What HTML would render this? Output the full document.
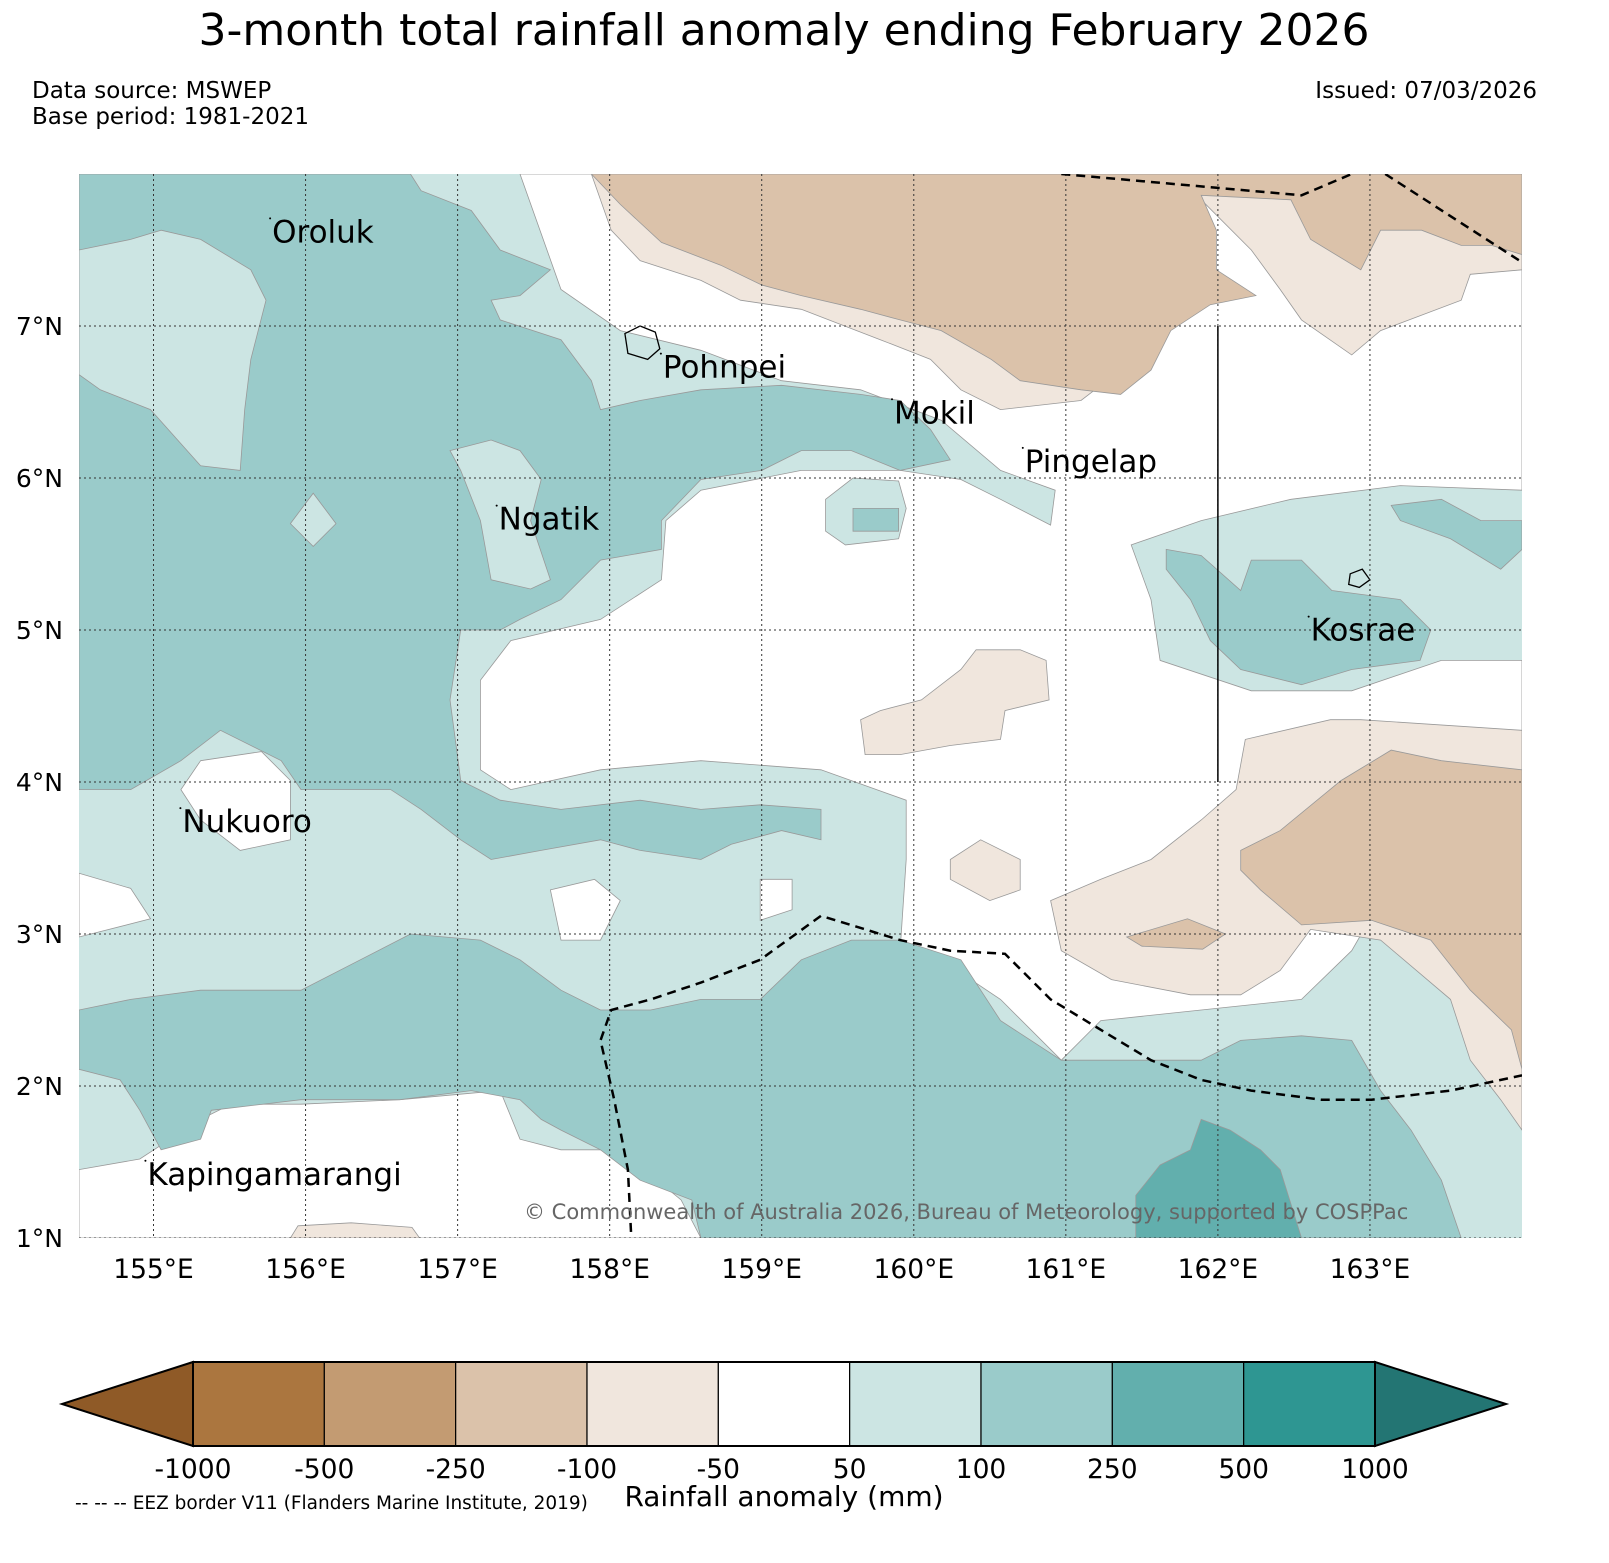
<!DOCTYPE html>
<html><head><meta charset="utf-8"><style>
html,body{margin:0;padding:0;background:#fff;}
body{width:1609px;height:1563px;position:relative;overflow:hidden;font-family:"DejaVu Sans","Liberation Sans",sans-serif;}
.t{position:absolute;white-space:nowrap;color:#000;}
</style></head><body>
<div class="t" style="left:0;width:1568px;text-align:center;top:5px;font-size:44px;">3-month total rainfall anomaly ending February 2026</div>
<div class="t" style="left:32px;top:78px;font-size:23px;line-height:26px;">Data source: MSWEP<br>Base period: 1981-2021</div>
<div class="t" style="right:72px;top:78px;font-size:23px;">Issued: 07/03/2026</div>
<svg id="map" width="1609" height="1563" style="position:absolute;left:0;top:0" xmlns="http://www.w3.org/2000/svg"></svg>
<script>
// axis scales (lon/lat)
const lonTicks=[155,156,157,158,159,160,161,162,163];
const latTicks=[1,2,3,4,5,6,7];
const lonMin=154.51, lonMax=164.0, latMin=1.0, latMax=8.0;
const levels=[-1000,-500,-250,-100,-50,50,100,250,500,1000];
const levelColors=["#8f5a27","#ab763f","#c39b72","#dbc2aa","#f0e6dd","#ffffff","#cce5e3","#9acbca","#62afad","#2e9692","#237573"];
// contour regions: [colorIndex, polygon in [lon,lat]]
const W1=[[157.41,8],[164,8],[164,5.92],[163.2,5.95],[162.48,5.86],[161.89,5.72],[161.43,5.56],[161.56,5.2],[161.62,4.8],[162.22,4.6],[162.88,4.6],[163.47,4.8],[164,4.8],[164,3.36],[163.07,3.22],[162.88,2.89],[162.55,2.57],[161.89,2.5],[161.23,2.43],[160.97,2.17],[160.57,2.57],[160.18,2.83],[159.91,2.89],[159.95,3.49],[159.95,3.88],[159.39,4.08],[158.6,4.14],[157.94,4.08],[157.35,3.95],[157.15,4.08],[157.15,4.67],[157.35,4.93],[157.94,5.07],[158.34,5.33],[158.37,5.72],[158.6,5.92],[159.26,6.05],[159.91,6.05],[160.31,5.99],[160.57,5.86],[160.9,5.69],[160.93,5.92],[160.57,6.05],[160.18,6.38],[159.65,6.58],[159.13,6.64],[158.6,6.84],[158.07,6.97],[157.68,7.24]];
const W2=[[154.51,1.45],[154.91,1.52],[155.31,1.78],[155.51,1.88],[155.97,1.88],[156.62,1.91],[157.28,1.97],[157.41,1.65],[157.68,1.58],[158.07,1.58],[158.47,1.25],[158.6,1.0],[154.51,1.0]];
const W3=[[155.31,4.14],[155.71,4.2],[155.9,4.01],[155.9,3.62],[155.57,3.55],[155.31,3.75],[155.18,3.95]];
const W4=[[157.61,3.29],[157.9,3.36],[158.07,3.22],[157.94,2.96],[157.68,2.96]];
const W5=[[158.99,3.36],[159.2,3.36],[159.2,3.16],[158.99,3.09]];
const W6=[[154.51,3.4],[154.85,3.3],[154.98,3.1],[154.51,2.98]];
const LB1=[[159.42,5.86],[159.6,6.0],[159.9,5.98],[159.95,5.8],[159.9,5.6],[159.55,5.56],[159.42,5.65]];
const MB1=[[159.6,5.8],[159.9,5.8],[159.9,5.65],[159.6,5.65]];
const T1=[[157.88,8],[164,8],[164,7.37],[163.66,7.34],[163.6,7.17],[163.07,6.97],[162.88,6.81],[162.55,7.04],[162.41,7.24],[162.22,7.5],[161.89,7.83],[161.76,7.76],[161.86,7.5],[161.76,7.04],[161.56,6.91],[161.36,6.71],[161.1,6.51],[160.57,6.45],[160.31,6.58],[160.11,6.78],[159.78,6.91],[159.26,7.11],[158.86,7.17],[158.6,7.3],[158.2,7.43],[158.01,7.63]];
const T2=[[157.88,8],[164,8],[164,7.47],[163.8,7.53],[163.6,7.53],[163.34,7.63],[163.07,7.63],[162.94,7.37],[162.61,7.57],[162.48,7.83],[161.89,7.86],[161.99,7.63],[161.99,7.37],[162.25,7.2],[161.95,7.14],[161.69,6.97],[161.56,6.71],[161.36,6.55],[161.1,6.58],[160.7,6.64],[160.51,6.78],[160.18,6.97],[159.91,7.04],[159.65,7.11],[159.26,7.2],[159.0,7.27],[158.73,7.4],[158.34,7.55],[158.07,7.8]];
const T3=[[160.9,3.22],[161.23,3.36],[161.56,3.49],[161.89,3.75],[162.12,3.95],[162.18,4.28],[162.74,4.41],[162.94,4.41],[164,4.34],[164,1.71],[163.86,1.91],[163.66,2.17],[163.53,2.57],[163.07,2.96],[162.61,3.03],[162.41,2.76],[162.15,2.6],[161.82,2.6],[161.3,2.7],[160.97,2.89]];
const T4=[[162.15,3.55],[162.41,3.68],[162.81,4.01],[163.14,4.21],[163.47,4.14],[164,4.08],[164,2.11],[163.93,2.37],[163.66,2.63],[163.4,2.96],[163.01,3.09],[162.55,3.06],[162.28,3.29],[162.15,3.42]];
const T5=[[161.4,2.98],[161.8,3.1],[162.05,3.0],[161.9,2.9],[161.5,2.92]];
const T6=[[159.65,4.41],[159.78,4.47],[160.05,4.54],[160.31,4.74],[160.41,4.87],[160.7,4.87],[160.87,4.8],[160.89,4.54],[160.6,4.47],[160.57,4.28],[160.24,4.24],[159.91,4.18],[159.68,4.18]];
const T7=[[160.24,3.49],[160.44,3.62],[160.7,3.49],[160.7,3.29],[160.5,3.22],[160.24,3.36]];
const T8=[[155.9,1.0],[155.95,1.08],[156.3,1.1],[156.7,1.07],[156.75,1.0]];
const M1=[[154.51,8],[156.69,8],[156.76,7.89],[157.09,7.76],[157.28,7.5],[157.61,7.37],[157.41,7.2],[157.22,7.17],[157.28,7.04],[157.68,6.91],[157.88,6.64],[157.94,6.45],[158.2,6.51],[158.6,6.58],[159.13,6.61],[159.65,6.55],[159.91,6.51],[160.11,6.32],[160.24,6.12],[159.91,6.05],[159.59,6.18],[159.26,6.18],[159.0,6.05],[158.6,5.99],[158.34,5.72],[158.34,5.53],[157.94,5.46],[157.68,5.2],[157.41,5.07],[157.28,5.0],[157.02,5.0],[156.95,4.54],[156.99,4.24],[157.02,4.01],[157.28,3.88],[157.68,3.82],[158.2,3.88],[158.6,3.82],[158.99,3.85],[159.39,3.82],[159.39,3.62],[159.13,3.68],[158.8,3.59],[158.6,3.49],[158.2,3.55],[157.94,3.62],[157.55,3.55],[157.22,3.49],[157.02,3.62],[156.76,3.82],[156.56,3.95],[155.97,3.95],[155.84,4.14],[155.44,4.34],[155.18,4.14],[154.85,3.95],[154.51,3.95]];
const L1=[[154.51,7.5],[154.85,7.57],[155.05,7.63],[155.31,7.57],[155.64,7.37],[155.74,7.17],[155.64,6.78],[155.6,6.45],[155.57,6.05],[155.31,6.08],[154.98,6.45],[154.65,6.58],[154.51,6.68]];
const L2=[[156.95,6.18],[157.22,6.25],[157.41,6.18],[157.55,5.99],[157.48,5.72],[157.61,5.33],[157.48,5.27],[157.22,5.33],[157.15,5.72],[157.02,6.05]];
const L3=[[155.9,5.7],[156.05,5.9],[156.2,5.7],[156.05,5.55]];
const M2=[[154.51,2.5],[154.85,2.57],[155.31,2.63],[155.97,2.63],[156.36,2.83],[156.69,3.0],[157.15,2.96],[157.41,2.83],[157.68,2.63],[157.94,2.5],[158.27,2.5],[158.6,2.57],[158.99,2.57],[159.26,2.83],[159.59,2.96],[159.91,2.96],[160.31,2.83],[160.57,2.43],[160.97,2.17],[161.23,2.17],[161.89,2.17],[162.15,2.3],[162.55,2.33],[162.88,2.3],[163.07,1.97],[163.27,1.71],[163.47,1.38],[163.6,1.0],[158.6,1.0],[158.54,1.25],[158.2,1.38],[157.94,1.58],[157.68,1.71],[157.55,1.78],[157.41,1.91],[157.09,1.97],[156.62,1.91],[155.97,1.91],[155.38,1.84],[155.31,1.65],[155.05,1.58],[154.91,1.84],[154.78,2.04],[154.51,2.11]];
const M3=[[161.46,1.28],[161.62,1.48],[161.82,1.58],[161.89,1.78],[162.08,1.71],[162.28,1.58],[162.41,1.45],[162.55,1.0],[161.46,1.0]];
const M4=[[161.66,5.53],[161.89,5.49],[162.15,5.26],[162.22,5.46],[162.55,5.46],[162.75,5.26],[163.2,5.2],[163.4,5.0],[163.33,4.8],[162.88,4.74],[162.55,4.64],[162.15,4.74],[161.95,4.93],[161.82,5.2],[161.66,5.4]];
const M5=[[163.14,5.82],[163.47,5.86],[163.73,5.72],[164,5.72],[164,5.53],[163.86,5.4],[163.53,5.6],[163.2,5.72]];
const regions=[["white-region-central",5,W1],["white-region-south",5,W2],["white-region-nukuoro",5,W3],["white-patch-a",5,W4],["white-patch-b",5,W5],["white-patch-c",5,W6],["light-teal-patch",6,LB1],["teal-patch",7,MB1],
["light-tan-north",4,T1],["tan-north",3,T2],["light-tan-east",4,T3],["tan-east",3,T4],["tan-patch",3,T5],["light-tan-central",4,T6],["light-tan-patch",4,T7],["light-tan-south",4,T8],
["teal-region-west",7,M1],["light-teal-oroluk",6,L1],["light-teal-ngatik",6,L2],["light-teal-patch-b",6,L3],["teal-region-south",7,M2],["dark-teal-region",8,M3],["teal-region-kosrae",7,M4],["teal-region-east",7,M5]];
const eezNorth=[[160.97,8.0],[162.55,7.86],[162.88,8.0]];
const eezNE=[[163.1,8.0],[164,7.42]];
const eezSouth=[[158.14,1.04],[158.12,1.45],[158.03,1.91],[157.94,2.3],[158.01,2.5],[158.27,2.57],[158.6,2.68],[158.99,2.83],[159.39,3.12],[159.91,2.96],[160.24,2.89],[160.6,2.87],[160.9,2.57],[161.23,2.37],[161.56,2.17],[161.89,2.04],[162.22,1.97],[162.68,1.91],[163.01,1.91],[163.53,1.97],[164,2.07]];
const labels=[["Oroluk",155.78,7.55],["Pohnpei",158.35,6.66],["Mokil",159.87,6.36],["Pingelap",160.73,6.04],["Ngatik",157.27,5.66],["Nukuoro",155.19,3.67],["Kapingamarangi",154.96,1.35],["Kosrae",162.61,4.93]];

const X0=79,X1=1522,Y0=174,Y1=1238;
const sx=l=>X0+(l-lonMin)/(lonMax-lonMin)*(X1-X0);
const sy=l=>Y1-(l-latMin)/(latMax-latMin)*(Y1-Y0);
const NS="http://www.w3.org/2000/svg";
const FF='DejaVu Sans, Liberation Sans, sans-serif';
const svg=document.getElementById('map');
function mk(tag,attrs,parent){const e=document.createElementNS(NS,tag);for(const k in attrs)e.setAttribute(k,attrs[k]);(parent||svg).appendChild(e);return e;}
const pts=p=>p.map(q=>sx(q[0]).toFixed(1)+","+sy(q[1]).toFixed(1)).join(" ");
const defs=mk('defs',{});const cp=mk('clipPath',{id:'cl'},defs);mk('rect',{x:X0,y:Y0,width:X1-X0,height:Y1-Y0},cp);
const g=mk('g',{'clip-path':'url(#cl)'});
const bg=mk('rect',{x:X0,y:Y0,width:X1-X0,height:Y1-Y0,fill:levelColors[6]},g);


regions.forEach(r=>{const e=mk('polygon',{points:pts(r[2]),fill:levelColors[r[1]],stroke:'#999','stroke-width':0.8},g);

});
// islands
const isl=mk('polygon',{points:pts([[158.1,6.95],[158.2,7.0],[158.3,6.96],[158.33,6.85],[158.25,6.78],[158.12,6.82]]),fill:'none',stroke:'#000','stroke-width':1.3},g);


const isk=mk('polygon',{points:pts([[162.87,5.37],[162.95,5.4],[163.0,5.33],[162.93,5.28],[162.86,5.3]]),fill:'none',stroke:'#000','stroke-width':1.3},g);


// grid
lonTicks.forEach(v=>{const e=mk('line',{x1:sx(v),x2:sx(v),y1:Y0,y2:Y1,stroke:'#333','stroke-width':1,'stroke-dasharray':'2,3'},g);

});
latTicks.forEach(v=>{const e=mk('line',{x1:X0,x2:X1,y1:sy(v),y2:sy(v),stroke:'#333','stroke-width':1,'stroke-dasharray':'2,3'},g);

});
[eezNorth,eezNE,eezSouth].forEach(p=>{const e=mk('polyline',{points:pts(p),fill:'none',stroke:'#000','stroke-width':2.5,'stroke-dasharray':'9,6'},g);

});
const vl=mk('line',{x1:sx(162),x2:sx(162),y1:sy(7),y2:sy(4),stroke:'#000','stroke-width':1.5},g);


labels.forEach(l=>{const d=mk('circle',{cx:sx(l[1])-2,cy:sy(l[2])-24,r:1,fill:'#000'},g);


const t=mk('text',{x:sx(l[1]),y:sy(l[2]),'font-size':31,'font-family':FF},g);t.textContent=l[0];

});
const cr=mk('text',{x:524,y:1219,'font-size':21,fill:'#666','font-family':FF},g);cr.textContent="© Commonwealth of Australia 2026, Bureau of Meteorology, supported by COSPPac";


// tick labels
lonTicks.forEach(v=>{const t=mk('text',{x:sx(v),y:1278,'text-anchor':'middle','font-size':26.5,'font-family':FF});t.textContent=v+"°E";

});
latTicks.forEach(v=>{const t=mk('text',{x:63,y:sy(v)+9,'text-anchor':'end','font-size':25,'font-family':FF});t.textContent=v+"°N";

});
// colorbar
const cbL=193,cbR=1375,cbT=1362,cbB=1446,tipL=62,tipR=1506;const nb=levels.length-1,bw=(cbR-cbL)/nb;
const lt=mk('polygon',{points:`${cbL},${cbT} ${tipL},${(cbT+cbB)/2} ${cbL},${cbB}`,fill:levelColors[0],stroke:'#000','stroke-width':2});


const rt=mk('polygon',{points:`${cbR},${cbT} ${tipR},${(cbT+cbB)/2} ${cbR},${cbB}`,fill:levelColors[levelColors.length-1],stroke:'#000','stroke-width':2});


for(let i=0;i<nb;i++){const r=mk('rect',{x:cbL+i*bw,y:cbT,width:bw,height:cbB-cbT,fill:levelColors[i+1],stroke:'#000','stroke-width':1.2});

}
mk('rect',{x:cbL,y:cbT,width:cbR-cbL,height:cbB-cbT,fill:'none',stroke:'#000','stroke-width':2});
levels.forEach((v,i)=>{const t=mk('text',{x:cbL+i*bw,y:1478,'text-anchor':'middle','font-size':26.5,'font-family':FF});t.textContent=v;

});
const ct=mk('text',{x:784,y:1506,'text-anchor':'middle','font-size':28,'font-family':FF});ct.textContent="Rainfall anomaly (mm)";


const en=mk('text',{x:75,y:1509,'font-size':18.5,'font-family':FF});en.textContent="-- -- -- EEZ border V11 (Flanders Marine Institute, 2019)";


</script>
</body></html>
